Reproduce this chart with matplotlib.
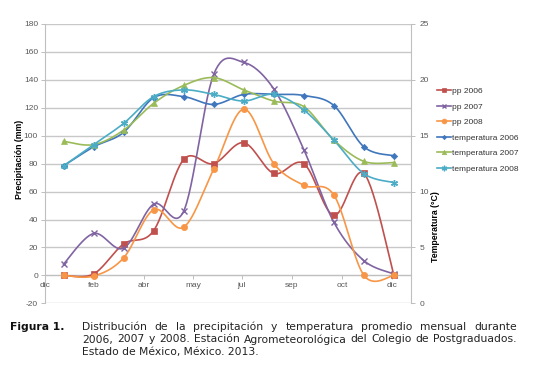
import numpy as np
import matplotlib
matplotlib.use("Agg")
import matplotlib.pyplot as plt
from matplotlib.lines import Line2D

# ---------------- data ----------------
months = list(range(1, 13))
pp_2006 = [0, 1, 22.5, 32, 83, 80, 95, 73, 80, 43, 73, 0]
pp_2007 = [8, 30, 19.5, 51, 46, 144, 152.5, 133.5, 90, 38, 10.5, 1]
pp_2008 = [0, -0.5, 12.5, 47, 34.5, 76, 119, 80, 64.5, 57.5, 0, 0]
temp_2006 = [12.3, 14.0, 15.3, 18.4, 18.5, 17.8, 18.7, 18.7, 18.6, 17.7, 14.0, 13.2]
temp_2007 = [14.5, 14.2, 15.5, 17.9, 19.5, 20.2, 19.1, 18.1, 17.6, 14.6, 12.7, 12.6]
temp_2008 = [12.3, 14.2, 16.1, 18.5, 19.1, 18.7, 18.1, 18.7, 17.3, 14.6, 11.6, 10.8]
x_tick_labels = ["dic", "feb", "abr", "may", "jul", "sep", "oct", "dic"]
x_tick_pos = [0.384, 2.015, 3.68, 5.31, 6.94, 8.60, 10.27, 11.93]
left_ticks = list(range(-20, 181, 20))
right_ticks = [0, 5, 10, 15, 20, 25]

series_pp = [
    ("pp 2006", pp_2006, "#C0504D", "s", 4.5),
    ("pp 2007", pp_2007, "#8064A2", "x", 4.5),
    ("pp 2008", pp_2008, "#F79646", "o", 4.5),
]
series_t = [
    ("temperatura 2006", temp_2006, "#3F76BC", "D", 3.2),
    ("temperatura 2007", temp_2007, "#9BBB59", "^", 4.2),
    ("temperatura 2008", temp_2008, "#4BACC6", (6, 2, 0), 5.0),
]


def smooth(x, y, n=30):
    """Catmull-Rom style Bezier smoothing (like Excel smoothed lines)."""
    P = np.column_stack([x, y]).astype(float)
    P = np.vstack([P[0], P, P[-1]])
    out = []
    t = np.linspace(0, 1, n)[:, None]
    for i in range(1, len(P) - 2):
        p0, p1, p2, p3 = P[i - 1], P[i], P[i + 1], P[i + 2]
        c1 = p1 + (p2 - p0) / 6.0
        c2 = p2 - (p3 - p1) / 6.0
        seg = ((1 - t) ** 3) * p1 + 3 * ((1 - t) ** 2) * t * c1 + 3 * (1 - t) * t ** 2 * c2 + t ** 3 * p2
        out.append(seg if i == 1 else seg[1:])
    s = np.vstack(out)
    return s[:, 0], s[:, 1]


W, H = 533, 375
fig = plt.figure(figsize=(W / 100, H / 100), dpi=100)
L, R, T, B = 45, 411, 24, 303.3
ax = fig.add_axes([L / W, 1 - B / H, (R - L) / W, (B - T) / H])
ax2 = ax.twinx()

tick_font = ["Liberation Sans Narrow", "Liberation Sans", "DejaVu Sans"]
grey = "#595959"
gridc = "#c8c8c8"

ax.set_xlim(0.384, 12.566)
ax.set_ylim(-20, 180)
ax2.set_ylim(0, 25)

for yv in left_ticks:
    ax.axhline(yv, color=gridc, lw=1.0, zorder=0)

for sp in ["top", "right"]:
    ax.spines[sp].set_visible(False)
ax.spines["left"].set_color("#bfbfbf")
ax.spines["bottom"].set_position(("data", 0))
ax.spines["bottom"].set_color("#bfbfbf")
for sp in ["top", "left", "bottom"]:
    ax2.spines[sp].set_visible(False)
ax2.spines["right"].set_color("#bfbfbf")

ax.set_yticks(left_ticks)
ax.set_yticklabels([str(v) for v in left_ticks], family=tick_font, fontsize=6, color=grey)
ax.set_xticks(x_tick_pos)
ax.set_xticklabels(x_tick_labels, family=tick_font, fontsize=6, color=grey)
ax.tick_params(axis="both", length=3, width=0.7, color="#bfbfbf", pad=2)
ax2.set_yticks(right_ticks)
ax2.set_yticklabels([str(v) for v in right_ticks], family=tick_font, fontsize=6, color=grey)
ax2.tick_params(axis="y", length=3, width=0.7, color="#bfbfbf", pad=3)

handles = []
for name, vals, col, mk, ms in series_pp:
    sx, sy = smooth(months, vals)
    ax.plot(sx, sy, color=col, lw=1.2, zorder=3)
    mew = 1.0 if mk == "x" else 0.5
    ax.plot(months, vals, ls="none", marker=mk, ms=ms, color=col, mew=mew, zorder=4)
    handles.append(Line2D([], [], color=col, lw=1.2, marker=mk, ms=ms - 1, mew=mew, label=name))
for name, vals, col, mk, ms in series_t:
    sx, sy = smooth(months, vals)
    ax2.plot(sx, sy, color=col, lw=1.2, zorder=3)
    mew = 1.0 if isinstance(mk, tuple) else 0.5
    ax2.plot(months, vals, ls="none", marker=mk, ms=ms, color=col, mew=mew, zorder=4)
    handles.append(Line2D([], [], color=col, lw=1.2, marker=mk, ms=ms - 1, mew=mew, label=name))

leg = fig.legend(handles=handles, loc="upper left", bbox_to_anchor=(433 / W, 1 - 83 / H),
                 frameon=False, prop={"family": tick_font, "size": 6},
                 handlelength=1.7, handletextpad=0.1, labelspacing=0.93, borderpad=0)
for t in leg.get_texts():
    t.set_color("#333333")

fig.text(20 / W, 1 - 159 / H, "Precipitación (mm)", rotation=90, ha="center", va="center",
         fontsize=6.3, fontweight="bold", family=["Liberation Sans", "DejaVu Sans"])
fig.text(435 / W, 1 - 227 / H, "Temperatura (°C)", rotation=90, ha="center", va="center",
         fontsize=6.3, fontweight="bold", family=["Liberation Sans", "DejaVu Sans"])

# ---------------- caption ----------------
cap_font = "DejaVu Sans"
cap_size = 7.75
fig.text(10 / W, 1 - 327 / H, "Figura 1.", fontsize=cap_size, fontweight="bold",
         family=cap_font, va="center", ha="left", color="#111111")
cap_lines = [
    ("Distribución de la precipitación y temperatura promedio mensual durante", True),
    ("2006, 2007 y 2008. Estación Agrometeorológica del Colegio de Postgraduados.", True),
    ("Estado de México, México. 2013.", False),
]
x0, x1 = 82, 517
ys = [327, 339.5, 352]
renderer = fig.canvas.get_renderer()
for (line, just), yy in zip(cap_lines, ys):
    if not just:
        fig.text(x0 / W, 1 - yy / H, line, fontsize=cap_size, family=cap_font,
                 va="center", ha="left", color="#222222")
        continue
    words = line.split(" ")
    widths = []
    for w in words:
        t = fig.text(0, 0, w, fontsize=cap_size, family=cap_font)
        widths.append(t.get_window_extent(renderer).width)
        t.remove()
    gap = (x1 - x0 - sum(widths)) / (len(words) - 1)
    xx = x0
    for w, wd in zip(words, widths):
        fig.text(xx / W, 1 - yy / H, w, fontsize=cap_size, family=cap_font,
                 va="center", ha="left", color="#222222")
        xx += wd + gap

fig.savefig("out.png", dpi=100)
